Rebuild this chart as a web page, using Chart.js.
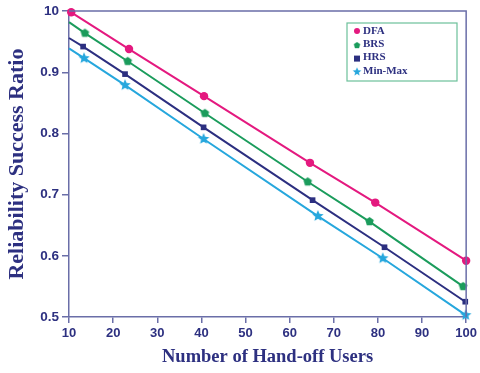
<!DOCTYPE html>
<html>
<head>
<meta charset="utf-8">
<script src="https://cdn.jsdelivr.net/npm/chart.js@4/dist/chart.umd.min.js"></script>
<style>
  html, body { margin: 0; padding: 0; background: #fff; }
  #wrap { width: 480px; height: 373px; }
</style>
</head>
<body>
<div id="wrap"><canvas id="relChart" width="480" height="373"></canvas></div>
<script>
// Reliability success ratio vs number of hand-off users
const seriesNames = ['DFA', 'BRS', 'HRS', 'Min-Max'];

const dfaX = [10.5, 23.6, 40.6, 64.6, 79.4, 100];
const dfaY = [0.998, 0.938, 0.861, 0.752, 0.687, 0.592];

// first entry of the other series is where the fitted line meets the y axis (no marker)
const brsX = [10, 13.6, 23.3, 40.8, 64.1, 78.1, 99.3];
const brsY = [0.982, 0.964, 0.918, 0.833, 0.721, 0.656, 0.550];

const hrsX = [10, 13.2, 22.7, 40.5, 65.2, 81.5, 99.8];
const hrsY = [0.956, 0.942, 0.897, 0.810, 0.691, 0.614, 0.525];

const mmX = [10, 13.4, 22.7, 40.5, 66.4, 81.1, 99.9];
const mmY = [0.939, 0.923, 0.879, 0.791, 0.665, 0.596, 0.503];

const xTicks = [10, 20, 30, 40, 50, 60, 70, 80, 90, 100];
const yTicks = [0.5, 0.6, 0.7, 0.8, 0.9, 1.0];
const yTickLabels = ['0.5', '0.6', '0.7', '0.8', '0.9', '10'];

const navy = '#2d3080';
const axisCol = '#6a6ea8';
const colors = ['#e4197f', '#1b9c5c', '#2c2f80', '#26a7dd'];

function toPoints(xs, ys) {
    return xs.map((x, i) => ({ x: x, y: ys[i] }));
}

// custom marker shapes
function polyMarker(color, sides, r, star) {
    const c = document.createElement('canvas');
    const s = r * 2 + 2;
    c.width = s; c.height = s;
    const g = c.getContext('2d');
    g.fillStyle = color;
    g.beginPath();
    const n = star ? sides * 2 : sides;
    for (let i = 0; i < n; i++) {
        const a = -Math.PI / 2 + i * 2 * Math.PI / n;
        const rr = star && i % 2 ? r * 0.45 : r;
        const px = s / 2 + rr * Math.cos(a), py = s / 2 + rr * Math.sin(a);
        if (i === 0) g.moveTo(px, py); else g.lineTo(px, py);
    }
    g.closePath();
    g.fill();
    return c;
}

const pentagon = polyMarker(colors[1], 5, 4.5, false);
const starImg = polyMarker(colors[3], 5, 6, true);

function radii(n, first) {
    return Array.from({ length: n }, (_, i) => (i === 0 ? first : 4));
}

const frameAndLegend = {
    id: 'frameAndLegend',
    afterDraw(chart) {
        const ctx = chart.ctx;
        const a = chart.chartArea;
        ctx.save();
        ctx.strokeStyle = axisCol;
        ctx.lineWidth = 1.5;
        ctx.beginPath();
        ctx.moveTo(a.left, a.top);
        ctx.lineTo(a.right, a.top);
        ctx.lineTo(a.right, a.bottom);
        ctx.stroke();

        // legend box
        const bx = 347, by = 23, bw = 110, bh = 58;
        ctx.strokeStyle = '#6cc09a';
        ctx.lineWidth = 1.2;
        ctx.strokeRect(bx, by, bw, bh);
        ctx.font = 'bold 11px "Liberation Serif", serif';
        ctx.textBaseline = 'middle';
        const markers = ['circle', pentagon, 'rect', starImg];
        chart.data.datasets.forEach((ds, i) => {
            const y = by + 8 + i * 13.3;
            const mx = bx + 10;
            ctx.fillStyle = colors[i];
            const m = markers[i];
            if (m === 'circle') {
                ctx.beginPath(); ctx.arc(mx, y, 3, 0, Math.PI * 2); ctx.fill();
            } else if (m === 'rect') {
                ctx.fillRect(mx - 3, y - 2, 6, 6);
            } else {
                ctx.drawImage(m, mx - m.width / 2 * 0.75, y - m.height / 2 * 0.75 + 1, m.width * 0.75, m.height * 0.75);
            }
            ctx.fillStyle = navy;
            ctx.fillText(ds.label, mx + 6, y);
        });
        ctx.restore();
    }
};

const ctx = document.getElementById('relChart').getContext('2d');
new Chart(ctx, {
    type: 'line',
    data: {
        datasets: [
            {
                label: seriesNames[0],
                data: toPoints(dfaX, dfaY),
                borderColor: colors[0],
                backgroundColor: colors[0],
                pointStyle: 'circle',
                pointRadius: 4.2
            },
            {
                label: seriesNames[1],
                data: toPoints(brsX, brsY),
                borderColor: colors[1],
                backgroundColor: colors[1],
                pointStyle: pentagon,
                pointRadius: radii(brsX.length, 0)
            },
            {
                label: seriesNames[2],
                data: toPoints(hrsX, hrsY),
                borderColor: colors[2],
                backgroundColor: colors[2],
                pointStyle: 'rect',
                pointRadius: radii(hrsX.length, 0)
            },
            {
                label: seriesNames[3],
                data: toPoints(mmX, mmY),
                borderColor: colors[3],
                backgroundColor: colors[3],
                pointStyle: starImg,
                pointRadius: radii(mmX.length, 0)
            }
        ]
    },
    options: {
        responsive: false,
        animation: false,
        clip: false,
        elements: {
            line: { borderWidth: 2, tension: 0 },
            point: { borderWidth: 0, hoverRadius: 4 }
        },
        layout: { padding: { top: 11, right: 13, left: 0, bottom: 0 } },
        plugins: {
            legend: { display: false },
            tooltip: { enabled: false }
        },
        scales: {
            x: {
                type: 'linear',
                min: 10,
                max: 100,
                afterBuildTicks: s => { s.ticks = xTicks.map(v => ({ value: v })); },
                afterFit: s => { s.height = 56; },
                grid: { drawOnChartArea: false, color: axisCol, tickLength: 6, lineWidth: 1.5 },
                border: { color: axisCol, width: 1.5 },
                ticks: {
                    color: navy,
                    padding: 3,
                    maxRotation: 0,
                    font: { family: '"Liberation Sans", Arial, sans-serif', size: 13, weight: 'bold' }
                },
                title: {
                    display: true,
                    text: 'Number of Hand-off Users',
                    color: navy,
                    padding: { top: 0, bottom: 5 },
                    font: { family: '"Liberation Serif", "Times New Roman", serif', size: 18.5, weight: 'bold' }
                }
            },
            y: {
                min: 0.5,
                max: 1.0,
                afterBuildTicks: s => { s.ticks = yTicks.map(v => ({ value: v })); },
                afterFit: s => { s.width = 69; },
                grid: { drawOnChartArea: false, color: axisCol, tickLength: 7, lineWidth: 1.5 },
                border: { color: axisCol, width: 1.5 },
                ticks: {
                    color: navy,
                    padding: 3,
                    callback: v => yTickLabels[yTicks.findIndex(t => Math.abs(t - v) < 1e-9)],
                    font: { family: '"Liberation Sans", Arial, sans-serif', size: 13.5, weight: 'bold' }
                },
                title: {
                    display: true,
                    text: 'Reliability Success Ratio',
                    color: navy,
                    padding: { top: 4, bottom: 0 },
                    font: { family: '"Liberation Serif", "Times New Roman", serif', size: 22, weight: 'bold' }
                }
            }
        }
    },
    plugins: [frameAndLegend]
});
</script>
</body>
</html>
